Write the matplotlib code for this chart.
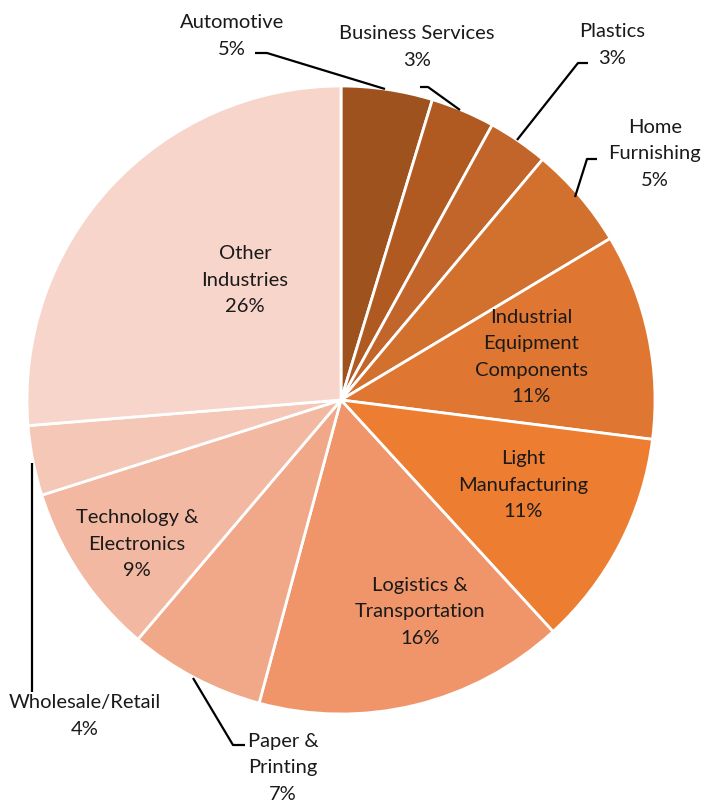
"""Pie chart: share of companies by industry."""

import matplotlib.pyplot as plt

plt.rcParams["font.family"] = ["Lato", "DejaVu Sans"]

W, H = 702, 802

industries = [
    "Automotive", "Business Services", "Plastics", "Home\nFurnishing",
    "Industrial\nEquipment\nComponents", "Light\nManufacturing",
    "Logistics &\nTransportation", "Paper &\nPrinting",
    "Technology &\nElectronics", "Wholesale/Retail", "Other\nIndustries",
]
shares = [4.7, 3.3, 3.1, 5.3, 10.6, 11.2, 16.0, 7.0, 8.9, 3.6, 26.3]
colors = [
    "#9E521E", "#B05A22", "#C2652A", "#D2702E", "#DF7631", "#ED7D31",
    "#F0956A", "#F1A888", "#F3B8A1", "#F5C7B7", "#F7D5CA",
]

# label centres in pixel coords (x, y from top)
label_pos = [
    (232, 36), (417, 47), (612, 45), (655, 154), (531, 357), (523, 485),
    (420, 612), (283, 768), (137, 544), (85, 716), (245, 280),
]

# leader lines (pixel coords) for the labels that sit outside the pie
leaders = [
    [(255, 53), (267, 53), (385, 89)],
    [(420, 87), (428, 87), (460, 110)],
    [(588, 63), (578, 63), (517, 140)],
    [(597, 159), (587, 159), (575, 197)],
    [(32, 463), (32, 692)],
    [(193, 678), (233, 745), (245, 745)],
]

fig = plt.figure(figsize=(W / 100, H / 100), dpi=100)
ax = fig.add_axes([0, 0, 1, 1])

ax.pie(shares, colors=colors, startangle=90, counterclock=False,
       center=(341, H - 400), radius=314,
       wedgeprops=dict(edgecolor="white", linewidth=2))

for name, val, (x, y) in zip(industries, shares, label_pos):
    ax.text(x, H - y, f"{name}\n{round(val)}%", ha="center", va="center",
            fontsize=14.5, color="#1a1a1a", linespacing=1.68)

for line in leaders:
    xs = [p[0] for p in line]
    ys = [H - p[1] for p in line]
    ax.plot(xs, ys, color="black", lw=1.6, solid_capstyle="butt")

ax.set_xlim(0, W)
ax.set_ylim(0, H)
ax.set_aspect("equal")
ax.axis("off")

plt.savefig("out.png", dpi=100)
